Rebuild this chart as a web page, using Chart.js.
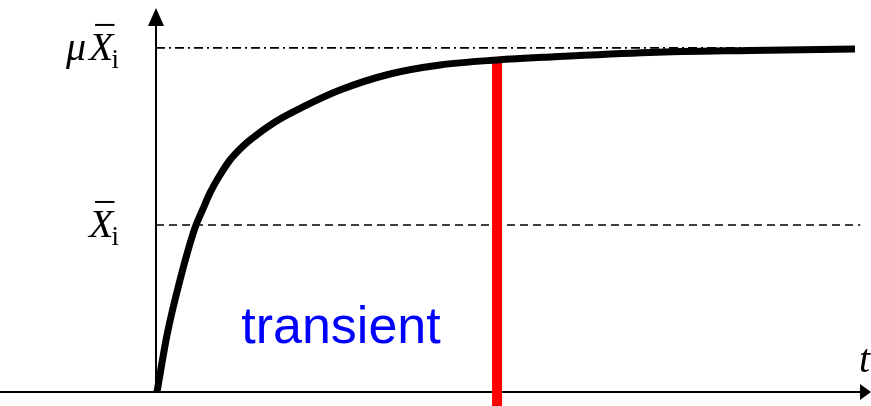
<!DOCTYPE html>
<html>
<head>
<meta charset="utf-8">
<script src="https://cdn.jsdelivr.net/npm/chart.js@4.4.0/dist/chart.umd.min.js"></script>
<style>
  html, body { margin: 0; padding: 0; background: #fff; }
  #wrap { width: 871px; height: 406px; }
  canvas { display: block; }
</style>
</head>
<body>
<div id="wrap"><canvas id="c" width="871" height="406"></canvas></div>
<script>
// ---- data ----
const timeValues = [0.014, 0.154, 0.336, 0.545, 0.657, 0.755, 0.895, 1.035, 1.175, 1.315, 1.664, 2.056, 2.573, 3.273, 3.972, 4.769, 5.510, 6.909, 8.308, 9.776];
const responseValues = [0, 0.341, 0.671, 0.982, 1.096, 1.192, 1.299, 1.389, 1.455, 1.509, 1.617, 1.707, 1.808, 1.904, 1.958, 1.988, 2.006, 2.033, 2.045, 2.054];
const levelValues = [1, 2.06];            // X̄i, μX̄i
const levelLabels = ['X̄i', 'μX̄i'];
const levelEnds = [9.85, 9.78];
const transientEnd = 4.77;
const transientTop = 1.99;
const transientLabel = 'transient';
const transientLabelPos = [2.587, 0.293];
const axisLabel = 't';
const xRange = [-2.182, 10];
const yRange = [-0.084, 2.347];

const curve = timeValues.map((t, i) => ({ x: t, y: responseValues[i] }));

const overlay = {
  id: 'overlay',
  beforeDatasetsDraw(chart) {
    const ctx = chart.ctx;
    const xs = chart.scales.x, ys = chart.scales.y;
    const ox = xs.getPixelForValue(0), oy = ys.getPixelForValue(0);
    const W = chart.width;
    ctx.save();
    ctx.strokeStyle = '#000';
    ctx.fillStyle = '#000';
    ctx.lineWidth = 2;
    // x axis
    ctx.beginPath();
    ctx.moveTo(0, oy); ctx.lineTo(W - 10, oy); ctx.stroke();
    ctx.beginPath();
    ctx.moveTo(W, oy); ctx.lineTo(W - 11, oy - 8); ctx.lineTo(W - 11, oy + 8); ctx.closePath(); ctx.fill();
    // y axis
    ctx.beginPath();
    ctx.moveTo(ox, oy); ctx.lineTo(ox, 24); ctx.stroke();
    ctx.beginPath();
    ctx.moveTo(ox, 8); ctx.lineTo(ox - 8, 26); ctx.lineTo(ox + 8, 26); ctx.closePath(); ctx.fill();
    ctx.restore();
  },
  afterDraw(chart) {
    const ctx = chart.ctx;
    const xs = chart.scales.x, ys = chart.scales.y;
    const ox = xs.getPixelForValue(0), oy = ys.getPixelForValue(0);
    ctx.save();
    ctx.fillStyle = '#000';
    ctx.strokeStyle = '#000';
    ctx.textBaseline = 'alphabetic';
    const mainFont = 'italic 40px "Liberation Serif"';
    const subFont = '27px "Liberation Serif"';
    levelValues.forEach((v, k) => {
      const label = levelLabels[k];
      const py = ys.getPixelForValue(v);
      const base = py + 12;
      const hasMu = label.startsWith('μ');
      ctx.font = subFont;
      const wI = ctx.measureText('i').width;
      ctx.font = mainFont;
      const wX = ctx.measureText('X').width;
      const wMu = ctx.measureText('μ').width;
      const right = ox - 37;
      const iX = right - wI;
      const Xx = iX - wX + 2;
      ctx.textAlign = 'left';
      ctx.font = subFont;
      ctx.fillText('i', iX, base + 8);
      ctx.font = mainFont;
      ctx.fillText('X', Xx, base);
      if (hasMu) ctx.fillText('μ', Xx - wMu - 3, base);
      // overline
      ctx.lineWidth = 2;
      ctx.beginPath();
      ctx.moveTo(Xx + 6, base - 35);
      ctx.lineTo(Xx + wX + 1, base - 35);
      ctx.stroke();
    });
    // transient label
    ctx.fillStyle = '#0000ff';
    ctx.font = '52px "Liberation Sans"';
    ctx.textAlign = 'center';
    ctx.fillText(transientLabel, xs.getPixelForValue(transientLabelPos[0]), ys.getPixelForValue(transientLabelPos[1]));
    // t axis label
    ctx.fillStyle = '#000';
    ctx.font = 'italic 40px "Liberation Serif"';
    ctx.textAlign = 'right';
    ctx.fillText(axisLabel, chart.width - 1, oy - 20);
    ctx.restore();
  }
};

new Chart(document.getElementById('c'), {
  type: 'line',
  data: {
    datasets: [
      {
        data: curve,
        borderColor: '#000',
        borderWidth: 7,
        pointRadius: 0,
        cubicInterpolationMode: 'monotone',
        borderJoinStyle: 'round',
        fill: false
      },
      {
        data: [{ x: transientEnd, y: transientTop }, { x: transientEnd, y: yRange[0] }],
        borderColor: '#ff0000',
        borderWidth: 10,
        pointRadius: 0,
        borderCapStyle: 'butt',
        fill: false
      },
      {
        data: [{ x: 0, y: levelValues[1] }, { x: levelEnds[1], y: levelValues[1] }],
        borderColor: '#000',
        borderWidth: 1.8,
        borderDash: [9, 4, 2, 4],
        pointRadius: 0,
        fill: false
      },
      {
        data: [{ x: 0, y: levelValues[0] }, { x: levelEnds[0], y: levelValues[0] }],
        borderColor: '#000',
        borderWidth: 1.6,
        borderDash: [8, 5],
        pointRadius: 0,
        fill: false
      }
    ]
  },
  options: {
    responsive: false,
    animation: false,
    devicePixelRatio: 1,
    layout: { padding: 0 },
    plugins: { legend: { display: false }, tooltip: { enabled: false } },
    scales: {
      x: { type: 'linear', min: xRange[0], max: xRange[1], display: false },
      y: { type: 'linear', min: yRange[0], max: yRange[1], display: false }
    }
  },
  plugins: [overlay]
});
</script>
</body>
</html>
